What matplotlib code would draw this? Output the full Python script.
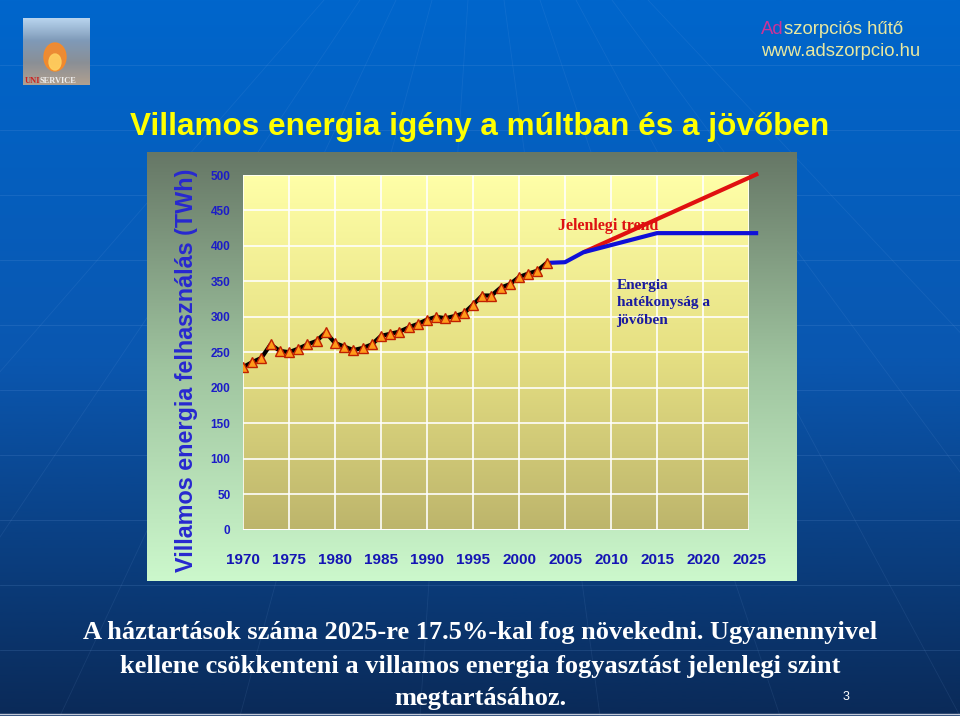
import numpy as np
import matplotlib
matplotlib.use("Agg")
import matplotlib.pyplot as plt
from matplotlib import font_manager
from matplotlib.colors import LinearSegmentedColormap

# -----------------------------------------------------------------------------
# Data
# -----------------------------------------------------------------------------
hist_years = list(range(1970, 2004))
hist_twh = [229, 236, 242, 261, 252, 250, 255, 261, 266, 278,
            263, 258, 253, 256, 261, 273, 276, 279, 285, 290,
            296, 300, 298, 301, 305, 317, 330, 330, 341, 346,
            356, 361, 365, 376]

eff_years = [2003, 2005, 2007, 2015, 2026]
eff_twh = [376, 377, 391, 418, 418]

trend_years = [2007, 2026]
trend_twh = [391, 502]

x_ticks = list(range(1970, 2030, 5))
y_ticks = list(range(0, 550, 50))

title = "Villamos energia igény a múltban és a jövőben"
y_label = "Villamos energia felhasználás (TWh)"
note_lines = ["A háztartások száma 2025-re 17.5%-kal fog növekedni. Ugyanennyivel",
              "kellene csökkenteni a villamos energia fogyasztást jelenlegi szint",
              "megtartásához."]

# -----------------------------------------------------------------------------
# Fonts
# -----------------------------------------------------------------------------
names = {f.name for f in font_manager.fontManager.ttflist}
narrow = "Liberation Sans Narrow" if "Liberation Sans Narrow" in names else "Liberation Sans"
sans = "Liberation Sans"
serif = "Liberation Serif"

W, H = 960, 716
fig = plt.figure(figsize=(W / 100, H / 100), dpi=100)

# Slide background (pixel coordinates)
bg = fig.add_axes([0, 0, 1, 1])
bg.set_xlim(0, W)
bg.set_ylim(H, 0)
bg.axis("off")
slide_cmap = LinearSegmentedColormap.from_list("slide", ["#0066cc", "#0a57b0", "#0a2a58"])
bg.imshow(np.linspace(0, 1, 256).reshape(-1, 1), cmap=slide_cmap, aspect="auto",
          extent=(0, W, H, 0), zorder=0)
for yy in range(65, H, 65):
    bg.plot([0, W], [yy, yy], color="#6fa0e0", lw=0.6, alpha=0.2, zorder=1)
for x0 in [-300, -120, 60, 240, 420, 600, 780, 960, 1140, 1320]:
    bg.plot([480 + (x0 - 480) * 0.2, x0], [0, H], color="#8fb8f0", lw=0.6, alpha=0.1, zorder=1)
bg.plot([0, W], [714, 714], color="#c0c8d8", lw=1, zorder=1)

# Chart area box
box_cmap = LinearSegmentedColormap.from_list("box", ["#667766", "#9fc49f", "#ccf8cc"])
bg.imshow(np.linspace(0, 1, 256).reshape(-1, 1), cmap=box_cmap, aspect="auto",
          extent=(147, 797, 581, 152), zorder=2)

# Logo
logo_cmap = LinearSegmentedColormap.from_list("logo", ["#b8d4ee", "#7f9ab8", "#8a8f96", "#b0a090"])
bg.imshow(np.linspace(0, 1, 64).reshape(-1, 1), cmap=logo_cmap, aspect="auto",
          extent=(23, 90, 85, 18), zorder=2)
bg.add_patch(matplotlib.patches.Ellipse((55, 57), 22, 28, color="#ff8a20", alpha=0.85, zorder=3))
bg.add_patch(matplotlib.patches.Ellipse((55, 62), 12, 16, color="#ffd060", alpha=0.9, zorder=3))
bg.text(40, 81, "UNI", color="#cc2020", fontsize=6, family=serif, weight="bold",
        ha="right", va="center", zorder=4)
bg.text(40, 81, "SERVICE", color="#f0f0f0", fontsize=6, family=serif, weight="bold",
        ha="left", va="center", zorder=4)

# Top-right texts
t = bg.text(761, 29, "Ad", color="#cc3399", fontsize=13.3, family=sans, va="center", zorder=4)
fig.canvas.draw()
bb = t.get_window_extent()
bg.text(761 + bb.width, 29, "szorpciós hűtő", color="#e8e8a0", fontsize=13.3, family=sans,
        va="center", zorder=4)
bg.text(761, 52, "www.adszorpcio.hu", color="#e8e8a0", fontsize=13.3, family=sans,
        va="center", zorder=4)

# Title
bg.text(480, 127, title, color="#ffff00", fontsize=22.7, family=narrow, weight="bold",
        ha="center", va="center", zorder=4)

# Y label
bg.text(186, 370, y_label, color="#2828d0", fontsize=16.8, family=sans, weight="bold",
        rotation=90, ha="center", va="center", zorder=4)

# Bottom note
for yy, line in zip([633, 666, 698], note_lines):
    bg.text(480, yy, line, color="white", fontsize=19, family=serif, weight="bold",
            ha="center", va="center", zorder=4)
bg.text(846, 697, "3", color="white", fontsize=9, family=sans, ha="center", va="center", zorder=4)

# -----------------------------------------------------------------------------
# Plot area
# -----------------------------------------------------------------------------
left, right, top, bottom = 243, 749, 175, 529.5
ax = fig.add_axes([left / W, 1 - bottom / H, (right - left) / W, (bottom - top) / H])
ax.set_xlim(1970, 2025)
ax.set_ylim(0, 500)
plot_cmap = LinearSegmentedColormap.from_list("plot", ["#ffffa8", "#e6e083", "#bdb56c"])
ax.imshow(np.linspace(0, 1, 256).reshape(-1, 1), cmap=plot_cmap, aspect="auto",
          extent=(1970, 2025, 0, 500), zorder=0)
for s in ax.spines.values():
    s.set_visible(False)
ax.set_xticks(x_ticks)
ax.set_yticks(y_ticks)
ax.grid(True, color="white", lw=1.3, alpha=0.9, zorder=1)
ax.set_axisbelow(True)
ax.tick_params(axis="both", length=0)
ax.tick_params(axis="x", pad=17, labelsize=11, labelcolor="#1414b4")
ax.tick_params(axis="y", pad=9, labelsize=8.5, labelcolor="#1c1cc8")
for lab in ax.get_xticklabels() + ax.get_yticklabels():
    lab.set_fontweight("bold")
    lab.set_family(sans)

ax.plot(trend_years, trend_twh, color="#e01010", lw=3, zorder=3, clip_on=False,
        solid_capstyle="butt")
ax.plot(eff_years, eff_twh, color="#1010d8", lw=3, zorder=4, clip_on=False,
        solid_capstyle="butt")
ax.plot(hist_years, hist_twh, color="black", lw=3, zorder=5, marker="^", markersize=7,
        markerfacecolor="#ff9a1a", markeredgecolor="#c02000", markeredgewidth=1)

ax.text(2004.2, 428, "Jelenlegi trend", color="#dd1111", fontsize=11.5, family=serif,
        weight="bold", ha="left", va="center", zorder=6)
ax.text(2010.6, 354, "Energia\nhatékonyság a\njövőben", color="#1a1aa0", fontsize=11,
        family=serif, weight="bold", ha="left", va="top", linespacing=1.45, zorder=6)

fig.savefig("out.png", dpi=100)
